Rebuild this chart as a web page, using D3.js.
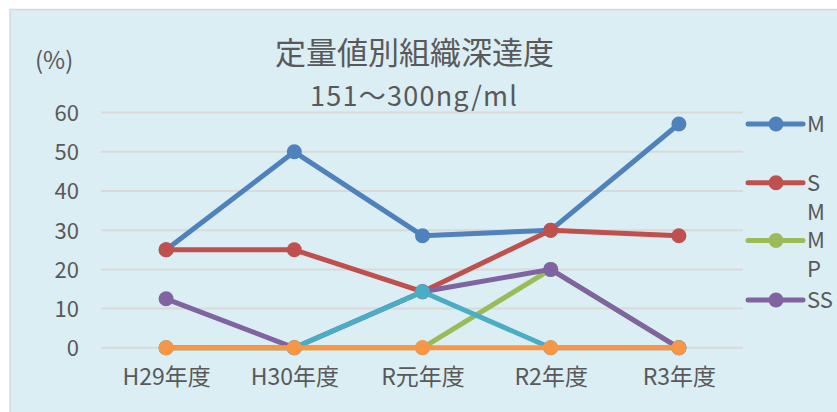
<!DOCTYPE html>
<html><head><meta charset="utf-8">
<script src="https://cdn.jsdelivr.net/npm/d3@7"></script>
<style>body{margin:0;background:#fff}svg{display:block}text{font-family:"Noto Sans CJK JP","Noto Sans",sans-serif;fill:#595959}</style>
</head><body><div id="c"></div>
<script>
const categories = ["H29年度","H30年度","R元年度","R2年度","R3年度"];
const seriesNames = ["M","SM","MP","SS","S5","S6"];
const legendLines = [["M"],["S","M"],["M","P"],["SS"]];
const valuesM  = [25, 50, 28.6, 30, 57.1];
const valuesSM = [25, 25, 14.3, 30, 28.6];
const valuesMP = [0, 0, 0, 20, 0];
const valuesSS = [12.5, 0, 14.3, 20, 0];
const valuesS5 = [0, 0, 14.3, 0, 0];
const valuesS6 = [0, 0, 0, 0, 0];
const yTicks = [0,10,20,30,40,50,60];
const colors = ["#4F81BD","#C0504D","#9BBB59","#8064A2","#4BACC6","#F79646"];
const title = "定量値別組織深達度";
const subtitle = "151〜300ng/ml";
const unitLabel = "(%)";

const W=837,H=412;
const svg=d3.select("#c").append("svg").attr("width",W).attr("height",H);
svg.append("rect").attr("x",10).attr("y",9.5).attr("width",W).attr("height",H)
  .attr("fill","#DBEEF4").attr("stroke","#D9D9D9").attr("stroke-width",1.5);

const x=d3.scalePoint().domain(categories).range([102,743]).padding(0.5);
const y=d3.scaleLinear().domain([0,60]).range([347.8,112.6]);

// gridlines
svg.append("g").selectAll("line").data(yTicks).join("line")
  .attr("x1",101).attr("x2",743).attr("y1",d=>y(d)).attr("y2",d=>y(d))
  .attr("stroke","#D9D9D9").attr("stroke-width",2);

// y axis
const ya=svg.append("g").attr("transform","translate(79,0)")
  .call(d3.axisLeft(y).tickValues(yTicks).tickSize(0).tickPadding(0));
ya.select(".domain").remove();
ya.selectAll("text").attr("font-size",22).attr("fill","#595959").attr("dy","0.36em");

// x axis
const xa=svg.append("g").attr("transform","translate(0,367)")
  .call(d3.axisBottom(x).tickSize(0).tickPadding(0));
xa.select(".domain").remove();
xa.selectAll("text").attr("font-size",23).attr("fill","#595959").attr("dy","0.8em");

const all=[valuesM,valuesSM,valuesMP,valuesSS,valuesS5,valuesS6];
const line=d3.line().x((d,i)=>x(categories[i])).y(d=>y(d));
all.forEach((vals,k)=>{
  const g=svg.append("g");
  g.append("path").attr("d",line(vals)).attr("fill","none").attr("stroke",colors[k])
    .attr("stroke-width",5).attr("stroke-linejoin","round").attr("stroke-linecap","round");
  g.selectAll("circle").data(vals).join("circle")
    .attr("cx",(d,i)=>x(categories[i])).attr("cy",d=>y(d)).attr("r",7.5).attr("fill",colors[k]);
});

// titles
svg.append("text").attr("x",414.5).attr("y",64).attr("text-anchor","middle").attr("font-size",31).text(title);
svg.append("text").attr("x",413.5).attr("y",106).attr("text-anchor","middle").attr("font-size",27)
  .attr("textLength",207).text(subtitle);
svg.append("text").attr("x",35).attr("y",69).attr("font-size",24).text(unitLabel);

// legend
const legY=[124,182.7,240.5,300];
legendLines.forEach((lines,k)=>{
  const g=svg.append("g").attr("transform",`translate(0,${legY[k]})`);
  g.append("line").attr("x1",748).attr("x2",803).attr("y1",0).attr("y2",0)
    .attr("stroke",colors[k]).attr("stroke-width",5).attr("stroke-linecap","round");
  g.append("circle").attr("cx",776).attr("cy",0).attr("r",7.5).attr("fill",colors[k]);
  lines.forEach((t,j)=>g.append("text").attr("x",807).attr("y",j*29).attr("dy","0.36em")
    .attr("font-size",22).text(t));
});
</script></body></html>
